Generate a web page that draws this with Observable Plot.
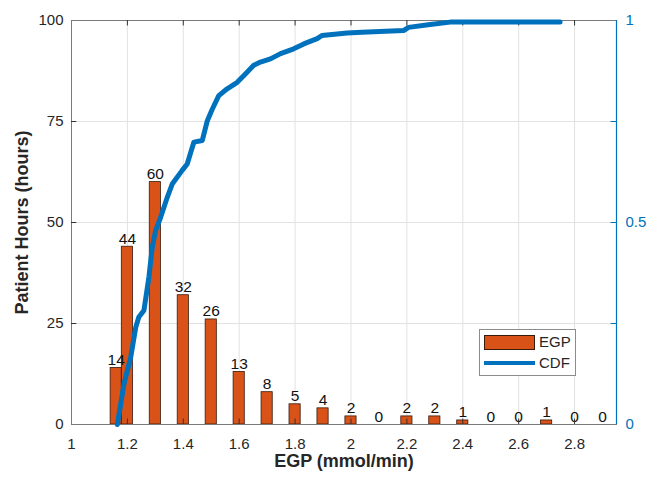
<!DOCTYPE html>
<html>
<head>
<meta charset="utf-8">
<script src="https://cdn.jsdelivr.net/npm/d3@7"></script>
<script src="https://cdn.jsdelivr.net/npm/@observablehq/plot@0.6"></script>
<style>
  body { margin: 0; background: #fff; }
  #wrap { position: relative; width: 648px; height: 477px; }
  .legend { position: absolute; left: 479px; top: 329px; width: 97px; height: 47px;
    border: 1px solid #8c8c8c; background: #fff; box-sizing: border-box;
    font: 15px "Liberation Sans", Arial, sans-serif; color: #262626; }
  .legend .item { position: absolute; left: 59px; line-height: 16px; }
  .legend .patch { position: absolute; left: 4px; top: 5px; width: 49px; height: 13px;
    background: #D95319; border: 1px solid #3a1a0a; }
  .legend .line { position: absolute; left: 4px; top: 31px; width: 51px; height: 4px; background: #0072BD; }
</style>
</head>
<body>
<div id="wrap"></div>
<script>
// Histogram: bin centres (mmol/min) and patient hours
const egp   = [1.16, 1.2, 1.3, 1.4, 1.5, 1.6, 1.7, 1.8, 1.9, 2.0, 2.1, 2.2, 2.3, 2.4, 2.5, 2.6, 2.7, 2.8, 2.9];
const hours = [14, 44, 60, 32, 26, 13, 8, 5, 4, 2, 0, 2, 2, 1, 0, 0, 1, 0, 0];

const cdfX = [1.164,1.188,1.212,1.230,1.241,1.259,1.277,1.289,1.301,1.319,1.343,1.361,1.396,1.414,1.438,1.468,1.486,1.504,1.527,1.557,1.593,1.623,1.652,1.676,1.712,1.748,1.795,1.831,1.879,1.896,1.986,2.039,2.188,2.206,2.283,2.355,2.748];
const cdfY = [0,0.101,0.167,0.241,0.266,0.282,0.365,0.439,0.480,0.513,0.563,0.596,0.629,0.645,0.699,0.703,0.752,0.781,0.814,0.831,0.847,0.868,0.889,0.897,0.905,0.918,0.930,0.942,0.955,0.963,0.969,0.971,0.975,0.983,0.990,0.996,0.996];

// Axes
const xTicks = [1, 1.2, 1.4, 1.6, 1.8, 2, 2.2, 2.4, 2.6, 2.8];
const yTicks = [0, 25, 50, 75, 100];
const cdfTicks = [0, 0.25, 0.5, 0.75, 1];
const cdfTickLabels = ["0", "", "0.5", "", "1"];
const xDomain = [1, 2.95];
const yDomain = [0, 100];

const barWidth = 0.04;
const tickLenX = 0.019;   // inward tick length in x units
const tickLenY = 1.35;    // inward tick length in y units
const gray = "#7a7a7a", blue = "#0072BD", orange = "#D95319";

const bars = egp.map((x, i) => ({x, h: hours[i]}));
const cdf = cdfX.map((x, i) => ({x, p: cdfY[i]}));
const inner = xTicks.slice(1);
const innerY = yTicks.slice(1, -1);

const chart = Plot.plot({
  width: 648, height: 477,
  marginLeft: 71, marginRight: 32, marginTop: 20, marginBottom: 53,
  style: {fontFamily: "'Liberation Sans', Arial, sans-serif", fontSize: "15px", color: "#262626", background: "#fff"},
  x: {domain: xDomain},
  y: {domain: yDomain},
  marks: [
    Plot.ruleX(inner, {stroke: "#e2e2e2"}),
    Plot.ruleY(innerY, {stroke: "#e2e2e2"}),
    Plot.rectY(bars, {x1: d => d.x - barWidth / 2, x2: d => d.x + barWidth / 2, y1: 0, y2: "h",
      fill: orange, stroke: "#3a1a0a", strokeWidth: 0.8}),
    Plot.text(bars, {x: "x", y: "h", text: d => String(d.h), lineAnchor: "bottom", dy: -3, fontSize: 15.5, fill: "#111"}),
    // frame & inward ticks
    Plot.frame({stroke: gray}),
    Plot.ruleX([xDomain[1]], {stroke: blue, strokeWidth: 1.2}),
    Plot.ruleX(inner, {y1: yDomain[0], y2: yDomain[0] + tickLenY, stroke: "#333"}),
    Plot.ruleX(inner, {y1: yDomain[1] - tickLenY, y2: yDomain[1], stroke: "#333"}),
    Plot.ruleY(innerY, {x1: xDomain[0], x2: xDomain[0] + tickLenX, stroke: "#333"}),
    Plot.ruleY(cdfTicks.slice(1, -1).map(p => p * 100), {x1: xDomain[1] - tickLenX, x2: xDomain[1], stroke: blue}),
    // CDF line
    Plot.line(cdf, {x: "x", y: d => d.p * 100, stroke: blue, strokeWidth: 5}),
    // axes labels
    Plot.axisX({ticks: xTicks, tickFormat: d => String(d), tickSize: 0, tickPadding: 14, label: null, fontSize: 15}),
    Plot.axisY({ticks: yTicks, tickSize: 0, tickPadding: 8, label: null, fontSize: 15}),
    Plot.axisY({anchor: "right", ticks: cdfTicks.map(p => p * 100),
      tickFormat: d => cdfTickLabels[cdfTicks.indexOf(d / 100)], tickSize: 0, tickPadding: 9,
      label: null, color: blue, fontSize: 15}),
    Plot.text(["EGP (mmol/min)"], {frameAnchor: "bottom", textAnchor: "middle", dy: 42, text: d => d, fontWeight: "bold", fontSize: 18, fill: "#262626"}),
    Plot.text(["Patient Hours (hours)"], {frameAnchor: "left", textAnchor: "middle", dx: -49, rotate: -90, text: d => d, fontWeight: "bold", fontSize: 18, fill: "#262626"})
  ]
});

const wrap = document.getElementById("wrap");
wrap.appendChild(chart);
const legend = document.createElement("div");
legend.className = "legend";
legend.innerHTML = '<div class="patch"></div><div class="item" style="top:4px">EGP</div>' +
                   '<div class="line"></div><div class="item" style="top:25px">CDF</div>';
wrap.appendChild(legend);
</script>
</body>
</html>
